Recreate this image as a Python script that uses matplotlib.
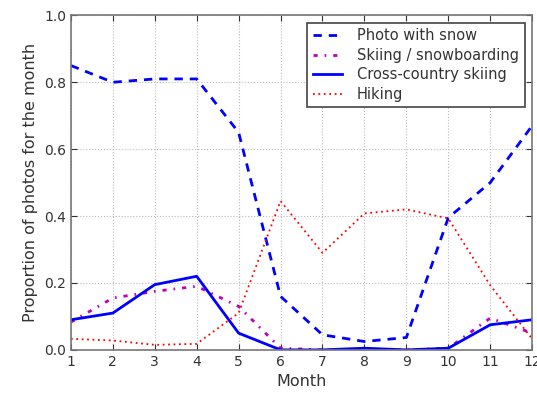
import matplotlib
matplotlib.use("Agg")
import matplotlib.pyplot as plt

months = list(range(1, 13))
snow = [0.85, 0.80, 0.81, 0.81, 0.65, 0.16, 0.045, 0.025, 0.037, 0.395, 0.50, 0.67]
skiing = [0.083, 0.155, 0.175, 0.19, 0.13, 0.005, 0.0, 0.0, 0.0, 0.005, 0.095, 0.05]
cross = [0.09, 0.11, 0.195, 0.22, 0.05, 0.0, 0.0, 0.005, 0.0, 0.005, 0.075, 0.09]
hiking = [0.033, 0.028, 0.015, 0.018, 0.11, 0.445, 0.29, 0.408, 0.42, 0.393, 0.193, 0.033]

fig = plt.figure(figsize=(5.37, 3.94), dpi=100)
ax = fig.add_axes([0.132, 0.112, 0.859, 0.849])

ax.plot(months, snow, color="blue", linestyle=(0, (3, 2.5)), linewidth=2, label="Photo with snow")
ax.plot(months, skiing, color="#bf00bf", linestyle=(0, (1.5, 2.5, 0.6, 2.5)), linewidth=2,
        label="Skiing / snowboarding")
ax.plot(months, cross, color="blue", linestyle="-", linewidth=2, label="Cross-country skiing")
ax.plot(months, hiking, color="red", linestyle=(0, (1, 2)), linewidth=1.3, label="Hiking")

ax.set_xlim(1, 12)
ax.set_ylim(0, 1.0)
ax.set_xticks(months)
ax.set_yticks([0.0, 0.2, 0.4, 0.6, 0.8, 1.0])
ax.set_yticklabels(["0.0", "0.2", "0.4", "0.6", "0.8", "1.0"])
ax.tick_params(direction="in", top=True, right=True, length=4, labelsize=10, colors="#333333")
ax.grid(True, linestyle=":", color="#bbbbbb", linewidth=0.8)
for s in ax.spines.values():
    s.set_color("#777777")
    s.set_linewidth(1.2)

ax.set_xlabel("Month", fontsize=11.5, color="#333333")
ax.set_ylabel("Proportion of photos for the month", fontsize=11.5, color="#333333")

leg = ax.legend(loc="upper right", fontsize=10.5, fancybox=False, framealpha=1,
                edgecolor="#444444", borderaxespad=0.5, handlelength=2.0, handletextpad=1.0,
                labelspacing=0.3)
leg.get_frame().set_linewidth(1.2)
for t in leg.get_texts():
    t.set_color("#333333")

fig.savefig("out.png", dpi=100)
